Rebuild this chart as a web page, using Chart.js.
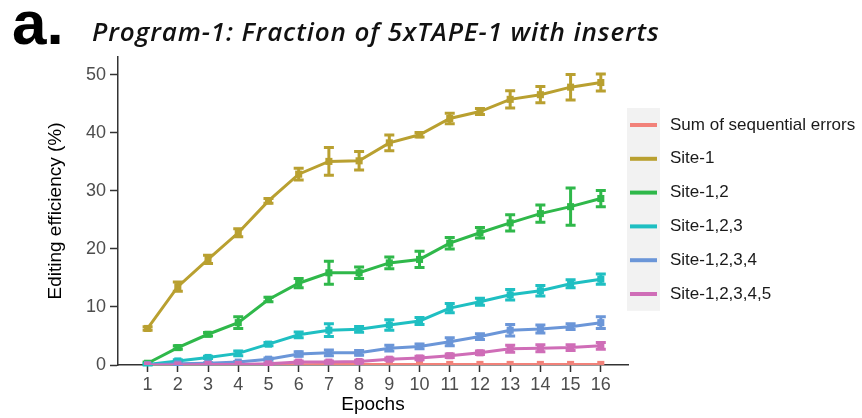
<!DOCTYPE html>
<html>
<head>
<meta charset="utf-8">
<script src="https://cdn.jsdelivr.net/npm/chart.js@4"></script>
<style>
  html, body { margin: 0; padding: 0; background: #fff; }
  #wrap { width: 862px; height: 418px; position: relative; }
</style>
</head>
<body>
<div id="wrap"><canvas id="chart" width="862" height="418"></canvas></div>
<script>
// Values
const epochs = [1, 2, 3, 4, 5, 6, 7, 8, 9, 10, 11, 12, 13, 14, 15, 16];
const yTicks = [0, 10, 20, 30, 40, 50];

const seriesNames = ['Sum of sequential errors', 'Site-1', 'Site-1,2', 'Site-1,2,3', 'Site-1,2,3,4', 'Site-1,2,3,4,5'];
const seriesColors = ['#f2827a', '#b9a030', '#2fb84a', '#1fbfc2', '#6b96d8', '#cf6db7'];

const sumErrors    = [0, 0, 0, 0, 0, 0.05, 0.1, 0.1, 0.1, 0.1, 0.1, 0.1, 0.1, 0.1, 0.1, 0.1];
const sumErrorsErr = [0, 0, 0, 0, 0, 0, 0, 0, 0, 0, 0, 0, 0, 0, 0, 0];

const site1    = [6.3, 13.5, 18.2, 22.8, 28.3, 32.9, 35.1, 35.2, 38.3, 39.7, 42.5, 43.7, 45.8, 46.6, 47.9, 48.7];
const site1Err = [0.3, 0.8, 0.7, 0.7, 0.4, 1.0, 2.4, 1.6, 1.35, 0.4, 0.9, 0.5, 1.5, 1.4, 2.2, 1.45];

const site12    = [0.3, 3.0, 5.3, 7.3, 11.3, 14.1, 15.9, 15.9, 17.6, 18.2, 21.0, 22.8, 24.5, 26.1, 27.3, 28.7];
const site12Err = [0.2, 0.3, 0.3, 1.0, 0.4, 0.8, 2.0, 1.0, 1.0, 1.4, 1.0, 0.9, 1.4, 1.5, 3.2, 1.4];

const site123    = [0.1, 0.7, 1.3, 2.0, 3.6, 5.2, 6.0, 6.15, 6.9, 7.6, 9.8, 10.9, 12.1, 12.8, 14.0, 14.8];
const site123Err = [0.1, 0.2, 0.2, 0.4, 0.3, 0.5, 1.1, 0.5, 0.9, 0.6, 0.8, 0.6, 0.9, 0.9, 0.7, 0.9];

const site1234    = [0, 0.2, 0.3, 0.5, 1.0, 1.9, 2.1, 2.1, 2.9, 3.2, 4.0, 4.9, 6.0, 6.2, 6.6, 7.3];
const site1234Err = [0, 0.1, 0.1, 0.1, 0.2, 0.4, 0.5, 0.4, 0.5, 0.4, 0.7, 0.5, 1.0, 0.7, 0.5, 1.0];

const site12345    = [0, 0, 0.1, 0.1, 0.2, 0.5, 0.5, 0.6, 1.0, 1.2, 1.6, 2.1, 2.8, 2.9, 3.0, 3.3];
const site12345Err = [0, 0, 0, 0, 0.1, 0.2, 0.2, 0.2, 0.2, 0.3, 0.3, 0.3, 0.6, 0.6, 0.5, 0.6];

const seriesValues = [sumErrors, site1, site12, site123, site1234, site12345];
const seriesErrors = [sumErrorsErr, site1Err, site12Err, site123Err, site1234Err, site12345Err];

const FONT = "'Liberation Sans', Arial, Helvetica, sans-serif";

// vertical error bars with caps, drawn through the chart scales
const errorBars = {
  id: 'errorBars',
  afterDatasetDraw(chart, args) {
    const ds = chart.data.datasets[args.index];
    const errs = ds.errors;
    if (!errs) return;
    const x = chart.scales.x, y = chart.scales.y;
    const ctx = chart.ctx;
    ctx.save();
    ctx.strokeStyle = ds.borderColor;
    ctx.lineWidth = 3;
    ds.data.forEach((p, i) => {
      const e = errs[i];
      if (!e) return;
      const px = x.getPixelForValue(p.x);
      const top = y.getPixelForValue(p.y + e);
      const bot = y.getPixelForValue(p.y - e);
      ctx.beginPath();
      ctx.moveTo(px, top); ctx.lineTo(px, bot);
      ctx.moveTo(px - 5, top); ctx.lineTo(px + 5, top);
      ctx.moveTo(px - 5, bot); ctx.lineTo(px + 5, bot);
      ctx.stroke();
    });
    ctx.restore();
  }
};

// ggplot-style legend on the right
const sideLegend = {
  id: 'sideLegend',
  afterDraw(chart) {
    const ctx = chart.ctx;
    const left = 627, top = 108, keyW = 33, rowH = 33.8;
    ctx.save();
    ctx.fillStyle = '#f2f2f2';
    ctx.fillRect(left, top, keyW, rowH * seriesNames.length);
    ctx.font = '17px ' + FONT;
    ctx.textBaseline = 'middle';
    seriesNames.forEach((name, i) => {
      const cy = top + rowH * i + 17;
      ctx.strokeStyle = seriesColors[i];
      ctx.lineWidth = 4;
      ctx.beginPath();
      ctx.moveTo(left + 3, cy); ctx.lineTo(left + 30, cy);
      ctx.stroke();
      ctx.fillStyle = '#1a1a1a';
      ctx.fillText(name, 670, cy);
    });
    ctx.restore();
  }
};

// panel letter and heading
const headings = {
  id: 'headings',
  afterDraw(chart) {
    const ctx = chart.ctx;
    ctx.save();
    ctx.fillStyle = '#000';
    ctx.textBaseline = 'alphabetic';
    ctx.font = 'bold 62px ' + FONT;
    ctx.fillText('a.', 12, 44);
    ctx.fillStyle = '#111';
    ctx.font = "italic 600 26px 'Open Sans', sans-serif";
    ctx.letterSpacing = '0.9px';
    ctx.fillText('Program-1: Fraction of 5xTAPE-1 with inserts', 92, 41);
    ctx.restore();
  }
};

const datasets = seriesNames.map((name, i) => ({
  label: name,
  data: epochs.map((e, j) => ({ x: e, y: seriesValues[i][j] })),
  errors: seriesErrors[i],
  borderColor: seriesColors[i],
  backgroundColor: seriesColors[i],
  borderWidth: 3,
  pointStyle: 'rect',
  pointRadius: 5,
  pointBorderWidth: 0,
  tension: 0,
  order: seriesNames.length - i
}));

new Chart(document.getElementById('chart'), {
  type: 'line',
  data: { datasets },
  options: {
    responsive: false,
    animation: false,
    events: [],
    layout: { padding: { top: 57, right: 234, left: 0, bottom: 0 } },
    plugins: { legend: { display: false }, tooltip: { enabled: false } },
    scales: {
      x: {
        type: 'linear',
        min: 0.02,
        max: 16.9,
        afterBuildTicks: s => { s.ticks = epochs.map(v => ({ value: v })); },
        afterFit: s => { s.height = 53; },
        grid: { drawOnChartArea: false, tickLength: 7, tickColor: '#333', tickWidth: 1.5 },
        border: { color: '#333', width: 1.5 },
        ticks: { color: '#4d4d4d', font: { family: FONT, size: 18 }, padding: 2, maxRotation: 0 },
        title: { display: true, text: 'Epochs', color: '#000', font: { family: FONT, size: 19 }, padding: { top: 0, bottom: 2 } }
      },
      y: {
        min: 0,
        max: 53.1,
        afterBuildTicks: s => { s.ticks = yTicks.map(v => ({ value: v })); },
        afterFit: s => { s.width = 118; },
        grid: { drawOnChartArea: false, tickLength: 8, tickColor: '#333', tickWidth: 1.5 },
        border: { color: '#333', width: 1.5 },
        ticks: { color: '#4d4d4d', font: { family: FONT, size: 18 }, padding: 4 },
        title: { display: true, text: 'Editing efficiency (%)', color: '#000', font: { family: FONT, size: 19 }, padding: { top: 44, bottom: 0 } }
      }
    }
  },
  plugins: [errorBars, sideLegend, headings]
});
</script>
</body>
</html>
